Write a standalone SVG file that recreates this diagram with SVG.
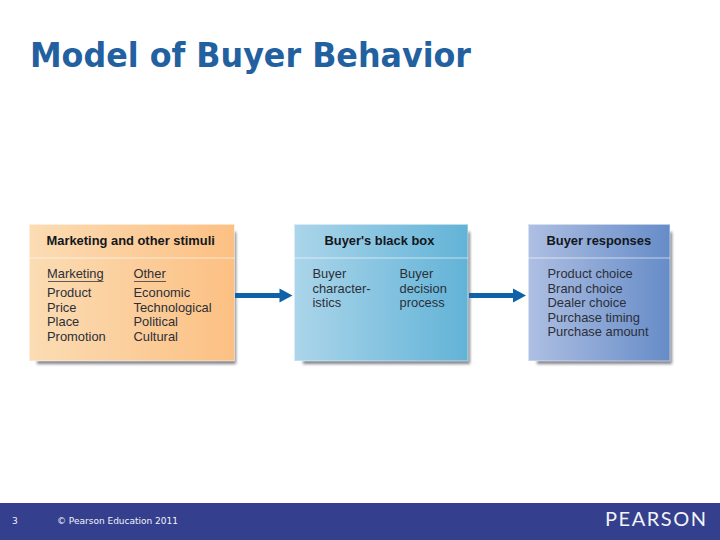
<svg xmlns="http://www.w3.org/2000/svg" width="720" height="540" viewBox="0 0 720 540">
<style>
text{font-family:"Liberation Sans",Arial,sans-serif;fill:#2b2f38}
.h{font-size:12.9px;font-weight:bold;fill:#14161c}
.b{font-size:12.9px}
.sep{stroke:#fff;stroke-opacity:.6;stroke-width:1;fill:none}
.edge{fill:none;stroke:#fff;stroke-opacity:.55;stroke-width:1}
.sh{fill:#7f828a;filter:url(#blur)}
.u{stroke:#3a3a3a;stroke-width:.8}
.conn{stroke:#0f62a8;stroke-width:5;fill:none}
.head{fill:#0f62a8}
.foot{font-family:"DejaVu Sans",sans-serif;font-size:9px;fill:#f2f3f8}
</style>
<defs>
<filter id="blur" x="-10%" y="-10%" width="120%" height="120%"><feGaussianBlur stdDeviation="1.800"/></filter>
<linearGradient id="g1"><stop offset="0" stop-color="#fbdcb4"/><stop offset="1" stop-color="#fcc083"/></linearGradient>
<linearGradient id="g2"><stop offset="0" stop-color="#abd5ea"/><stop offset="1" stop-color="#62b3d7"/></linearGradient>
<linearGradient id="g3"><stop offset="0" stop-color="#aebfe2"/><stop offset="1" stop-color="#668cc8"/></linearGradient>
</defs>
<rect width="720" height="540" fill="#fff"/>
<text id="title" x="30" y="66.500" textLength="441" lengthAdjust="spacingAndGlyphs" style="font-family:'DejaVu Sans',sans-serif;font-weight:bold;font-size:33.500px;fill:#22609f">Model of Buyer Behavior</text>

<g id="box-stimuli">
<rect class="sh" x="37" y="232" width="199" height="132"/>
<rect x="29" y="224" width="205.500" height="137" fill="url(#g1)"/>
<rect class="edge" x="29.500" y="224.500" width="205" height="136.500"/>
<path class="sep" d="M29 258H234.500"/>
<text class="h" x="46.500" y="245">Marketing and other stimuli</text>
<text class="b" x="47" y="278">Marketing</text>
<path class="u" d="M48 281.500H103.500"/>
<text class="b" x="133.500" y="278">Other</text>
<path class="u" d="M134 281.500H166"/>
<text class="b" x="47" y="297">Product</text>
<text class="b" x="47" y="311.500">Price</text>
<text class="b" x="47" y="326">Place</text>
<text class="b" x="47" y="340.500">Promotion</text>
<text class="b" x="133.500" y="297">Economic</text>
<text class="b" x="133.500" y="311.500">Technological</text>
<text class="b" x="133.500" y="326">Political</text>
<text class="b" x="133.500" y="340.500">Cultural</text>
</g>

<g id="box-blackbox">
<rect class="sh" x="303" y="232" width="167" height="132"/>
<rect x="294" y="224" width="174" height="137" fill="url(#g2)"/>
<rect class="edge" x="294.500" y="224.500" width="173.500" height="136.500"/>
<path class="sep" d="M294 258H468"/>
<text class="h" x="324.500" y="245">Buyer's black box</text>
<text class="b" x="312.500" y="278">Buyer</text>
<text class="b" x="312.500" y="292.500">character-</text>
<text class="b" x="312.500" y="307">istics</text>
<text class="b" x="399.500" y="278">Buyer</text>
<text class="b" x="399.500" y="292.500">decision</text>
<text class="b" x="399.500" y="307">process</text>
</g>

<g id="box-responses">
<rect class="sh" x="537" y="232" width="135" height="132"/>
<rect x="528" y="224" width="142" height="137" fill="url(#g3)"/>
<rect class="edge" x="528.500" y="224.500" width="141.500" height="136.500"/>
<path class="sep" d="M528 258H670"/>
<text class="h" x="546.500" y="245">Buyer responses</text>
<text class="b" x="547.500" y="278">Product choice</text>
<text class="b" x="547.500" y="292.500">Brand choice</text>
<text class="b" x="547.500" y="307">Dealer choice</text>
<text class="b" x="547.500" y="321.500">Purchase timing</text>
<text class="b" x="547.500" y="336">Purchase amount</text>
</g>

<g id="connectors">
<path class="conn" d="M235 295.500H281"/>
<path class="head" d="M279.500 288.500L292.500 295.500L279.500 302.500Z"/>
<path class="conn" d="M469 295.500H514"/>
<path class="head" d="M513 288.500L526 295.500L513 302.500Z"/>
</g>

<g id="footer">
<rect x="0" y="503" width="720" height="37" fill="#343f8e"/>
<text class="foot" x="12" y="524">3</text>
<text class="foot" x="57" y="524" textLength="121" lengthAdjust="spacing">© Pearson Education 2011</text>
<text x="605" y="526" textLength="101" lengthAdjust="spacing" style="font-family:Lato,sans-serif;font-size:20px;fill:#f2f3f8">PEARSON</text>
</g>
</svg>
